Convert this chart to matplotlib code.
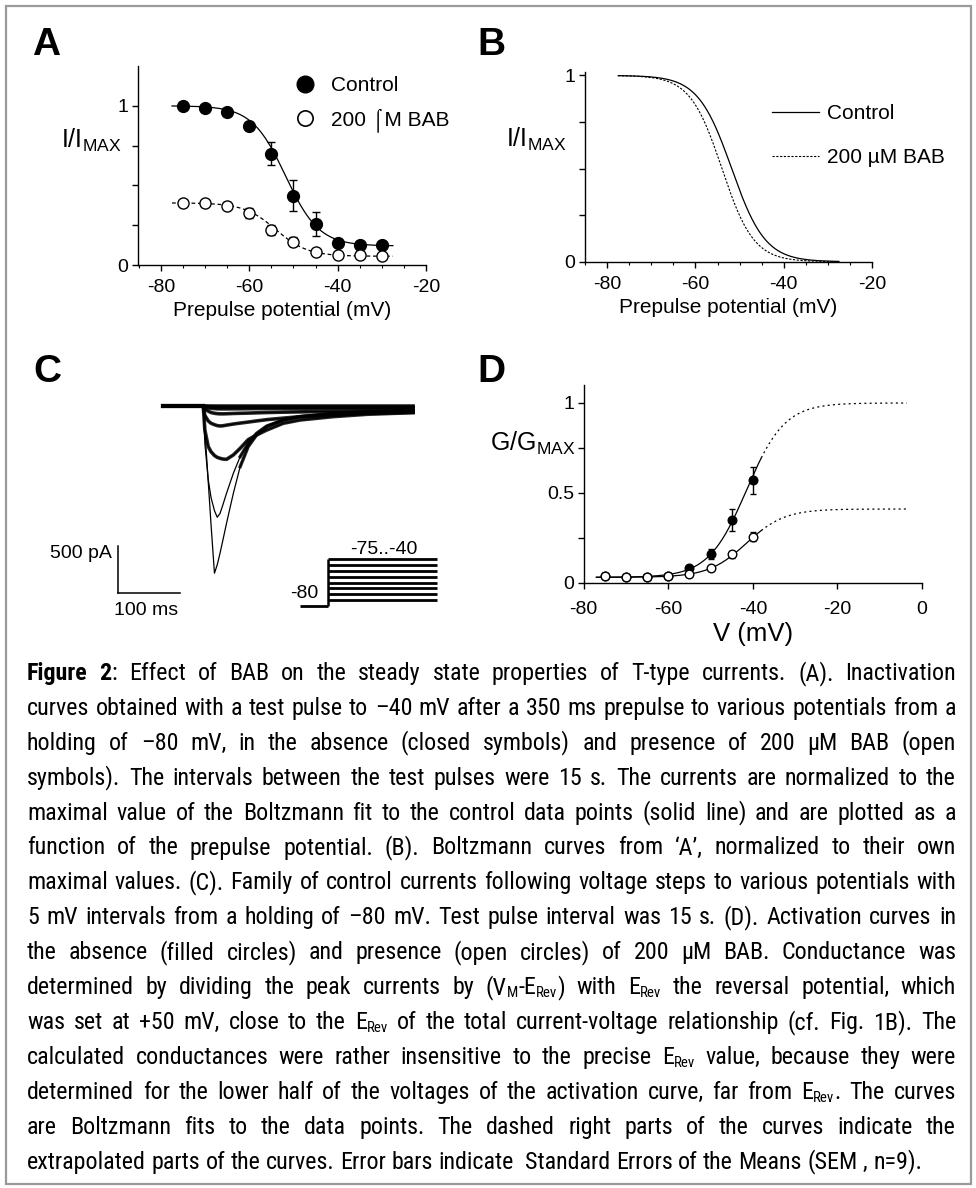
import re
import os
import numpy as np
import matplotlib
matplotlib.use('Agg')
import matplotlib.pyplot as plt
from matplotlib import font_manager
from matplotlib.font_manager import FontProperties
from matplotlib.patches import Rectangle
from matplotlib.lines import Line2D

# ---------------------------------------------------------------- data
# Panel A: steady-state inactivation (I/Imax vs prepulse potential)
prepulse_mv = [-75, -70, -65, -60, -55, -50, -45, -40, -35, -30]
a_control = [1.00, 0.985, 0.962, 0.874, 0.700, 0.436, 0.258, 0.136, 0.126, 0.126]
a_control_err = [0.010, 0.010, 0.015, 0.020, 0.071, 0.096, 0.073, 0.015, 0.010, 0.010]
a_bab = [0.388, 0.388, 0.373, 0.325, 0.220, 0.147, 0.084, 0.063, 0.063, 0.057]
a_bab_err = [0.015, 0.010, 0.020, 0.030, 0.030, 0.030, 0.015, 0.010, 0.010, 0.010]
# Boltzmann fit parameters [top, bottom, V1/2 (mV), slope (mV)]
inact_fit_control = [1.0, 0.12, -51.8, 3.8]
inact_fit_bab = [0.39, 0.055, -54.0, 3.6]
inact_fit_range = [-77.5, -27.5]

# Panel D: activation (G/Gmax vs V)
act_mv = [-75, -70, -65, -60, -55, -50, -45, -40]
d_control = [0.035, 0.032, 0.033, 0.040, 0.080, 0.158, 0.348, 0.570]
d_control_err = [0.005, 0.005, 0.005, 0.006, 0.010, 0.027, 0.060, 0.075]
d_bab = [0.037, 0.032, 0.034, 0.040, 0.048, 0.083, 0.158, 0.255]
d_bab_err = [0.005, 0.005, 0.005, 0.005, 0.006, 0.008, 0.020, 0.025]
act_fit_control = [0.03, 1.0, -41.5, 4.5]
act_fit_bab = [0.03, 0.41, -41.5, 4.5]
act_fit_measured = [-77.0, -38.0]
act_fit_extrapolated = [-38.0, -3.6]

# Panel C: family of control currents (time in ms, current in pA)
trace_t_ms = [0, 64.5, 67, 72.5, 77, 82.5, 87, 91.5, 96, 102, 113, 124, 137,
              150.5, 167, 193.5, 220.5, 274, 328, 403]
trace_1 = [0, 0, -254, -813, -1270, -1790, -1700, -1576, -1440, -1255, -934, -649,
           -435, -310, -221, -150, -114, -78, -61, -50]
trace_2 = [0, 0, -400, -790, -980, -1120, -1191, -1150, -1060, -934, -720, -542,
           -400, -292, -214, -150, -114, -85, -68, -57]
trace_3 = [0, 0, -257, -435, -490, -530, -550, -560, -568, -571, -524, -453,
           -360, -310, -257, -185, -150, -114, -89, -71]
trace_4 = [0, 0, -100, -160, -185, -200, -210, -214, -212, -205, -193, -183,
           -172, -160, -146, -130, -114, -96, -78, -68]
trace_5 = [0, 0, -30, -55, -70, -78, -82, -84, -84, -83, -80, -78, -76, -73,
           -70, -66, -63, -58, -54, -50]
trace_6 = [0, 0, -10, -20, -25, -28, -30, -31, -31, -31, -30, -30, -29, -28,
           -28, -27, -27, -26, -25, -25]
trace_7 = [0, 0, -3, -6, -8, -9, -10, -10, -10, -10, -10, -10, -10, -10, -10,
           -10, -10, -10, -10, -10]
trace_8 = [0] * 20
traces = [trace_1, trace_2, trace_3, trace_4, trace_5, trace_6, trace_7, trace_8]
scale_bar_ms = 100
scale_bar_pa = 500

# voltage protocol (mV)
protocol_holding_mv = -80
protocol_steps_mv = [-75, -70, -65, -60, -55, -50, -45, -40]
protocol_t_ms = [0, 45, 221]

caption_lines = [
    "**Figure** **2**: Effect of BAB on the steady state properties of T-type currents. (A). Inactivation",
    "curves obtained with a test pulse to \u201340 mV after a 350 ms prepulse to various potentials from a",
    "holding of \u201380 mV, in the absence (closed symbols) and presence of 200 \u00b5M BAB (open",
    "symbols). The intervals between the test pulses were 15 s. The currents are normalized to the",
    "maximal value of the Boltzmann fit to the control data points (solid line) and are plotted as a",
    "function of the prepulse potential. (B). Boltzmann curves from \u2018A\u2019, normalized to their own",
    "maximal values. (C). Family of control currents following voltage steps to various potentials with",
    "5 mV intervals from a holding of \u201380 mV. Test pulse interval was 15 s. (D). Activation curves in",
    "the absence (filled circles) and presence (open circles) of 200 \u00b5M BAB. Conductance was",
    "determined by dividing the peak currents by (V_{M}-E_{Rev}) with E_{Rev} the reversal potential, which",
    "was set at +50 mV, close to the E_{Rev} of the total current-voltage relationship (cf. Fig. 1B). The",
    "calculated conductances were rather insensitive to the precise E_{Rev} value, because they were",
    "determined for the lower half of the voltages of the activation curve, far from E_{Rev}. The curves",
    "are Boltzmann fits to the data points. The dashed right parts of the curves indicate the",
    "extrapolated parts of the curves. Error bars indicate  Standard Errors of the Means (SEM , n=9).",
]

# ---------------------------------------------------------------- fonts
W, H, DPI = 976, 1188, 100


def find_path(fp):
    try:
        return font_manager.findfont(fp, fallback_to_default=False)
    except Exception:
        return None


def has_font(name):
    return find_path(FontProperties(family=name)) is not None


SANS = 'Liberation Sans' if has_font('Liberation Sans') else 'DejaVu Sans'

# look for a narrow sans for the justified caption
CAPTION_FONT = dict(family=SANS)
for fam, stretch in [('Liberation Sans Narrow', 'normal'), ('Arial Narrow', 'normal'),
                     ('Roboto Condensed', 'normal'), ('Noto Sans', 'condensed'),
                     ('Noto Sans Condensed', 'normal'), ('Open Sans', 'condensed'),
                     ('Open Sans Condensed', 'normal'), ('DejaVu Sans', 'condensed')]:
    p = find_path(FontProperties(family=fam, stretch=stretch))
    if p:
        base = os.path.basename(p).lower()
        if 'narrow' in base or 'condens' in base:
            CAPTION_FONT = dict(family=fam, stretch=stretch)
            break

plt.rcParams['font.family'] = [SANS, 'DejaVu Sans']
plt.rcParams['axes.unicode_minus'] = False
plt.rcParams['mathtext.fontset'] = 'custom'
plt.rcParams['mathtext.rm'] = SANS
plt.rcParams['mathtext.it'] = SANS
plt.rcParams['mathtext.bf'] = SANS + ':bold'

fig = plt.figure(figsize=(W / DPI, H / DPI), dpi=DPI)
fig.patch.set_facecolor('white')


def px_axes(x0, y0, x1, y1):
    return fig.add_axes([x0 / W, 1 - y1 / H, (x1 - x0) / W, (y1 - y0) / H])


def ptext(x, y, s, **kw):
    return fig.text(x / W, 1 - y / H, s, **kw)


def style_axes(ax, xpad=6):
    for s in ['top', 'right']:
        ax.spines[s].set_visible(False)
    for s in ['left', 'bottom']:
        ax.spines[s].set_linewidth(1.0)
    ax.tick_params(which='major', direction='out', length=4, width=1.0, labelsize=14, pad=3)
    ax.tick_params(axis='x', which='major', pad=xpad)
    ax.tick_params(which='minor', direction='out', length=2.5, width=0.8)
    ax.patch.set_alpha(0)


def inact(v, top, bottom, vh, k):
    return bottom + (top - bottom) / (1 + np.exp((v - vh) / k))


def act(v, bottom, top, vh, k):
    return bottom + (top - bottom) / (1 + np.exp((vh - v) / k))


DASH = (0, (3.0, 2.2))
FINE_DASH = (0, (2.0, 1.4))
DOT = (0, (1.6, 2.6))

# ---------------------------------------------------------------- panel A
axA = px_axes(138, 66, 426, 265)
style_axes(axA, xpad=6)
axA.set_xlim(-85.2, -20)
axA.set_ylim(0, 1.25)
axA.set_xticks([-80, -60, -40, -20])
axA.set_xticks(np.arange(-85, -19, 5), minor=True)
axA.set_yticks([0, 0.25, 0.5, 0.75, 1.0])
axA.set_yticklabels(['0', '', '', '', '1'])
vA = np.linspace(inact_fit_range[0], inact_fit_range[1], 300)
axA.plot(vA, inact(vA, *inact_fit_control), color='black', lw=0.9)
axA.plot(vA, inact(vA, *inact_fit_bab), color='black', lw=0.9, ls=DASH)
axA.errorbar(prepulse_mv, a_control, yerr=a_control_err, fmt='none', ecolor='black',
             elinewidth=1.0, capsize=3, capthick=1.0)
axA.errorbar(prepulse_mv, a_bab, yerr=a_bab_err, fmt='none', ecolor='black',
             elinewidth=1.0, capsize=3, capthick=1.0)
axA.plot(prepulse_mv, a_control, 'o', ms=8.5, mfc='black', mec='black', mew=1.0, zorder=5)
axA.plot(prepulse_mv, a_bab, 'o', ms=8.0, mfc='white', mec='black', mew=1.0, zorder=5)
hA = [Line2D([], [], marker='o', ls='none', ms=12, mfc='black', mec='black'),
      Line2D([], [], marker='o', ls='none', ms=11, mfc='white', mec='black', mew=1.2)]
axA.legend(hA, ['Control', '200 \u2320M BAB'], loc='upper left', frameon=False,
           bbox_to_anchor=(295 / W, 1 - 76 / H), bbox_transform=fig.transFigure,
           fontsize=15, handlelength=1.0, handletextpad=0.72, labelspacing=0.62,
           borderpad=0, borderaxespad=0)
axA.set_xlabel('Prepulse potential (mV)', fontsize=15, labelpad=4)
ptext(61, 148, 'I/I$_{\\rm MAX}$', fontsize=18, va='baseline', ha='left')

# ---------------------------------------------------------------- panel B
axB = px_axes(584.7, 71.7, 872, 261.7)
style_axes(axB, xpad=6)
axB.set_xlim(-85.1, -20)
axB.set_ylim(0, 1.02)
axB.set_xticks([-80, -60, -40, -20])
axB.set_xticks(np.arange(-85, -19, 5), minor=True)
axB.set_yticks([0, 0.25, 0.5, 0.75, 1.0])
axB.set_yticklabels(['0', '', '', '', '1'])
vB = np.linspace(inact_fit_range[0], inact_fit_range[1], 300)
axB.plot(vB, inact(vB, 1.0, 0.0, *inact_fit_control[2:]), color='black', lw=0.9, label='Control')
axB.plot(vB, inact(vB, 1.0, 0.0, *inact_fit_bab[2:]), color='black', lw=0.8, ls=FINE_DASH,
         label='200 \u00b5M BAB')
axB.legend(loc='upper left', frameon=False,
           bbox_to_anchor=(772 / W, 1 - 104 / H), bbox_transform=fig.transFigure,
           fontsize=15, handlelength=2.26, handletextpad=0.38, labelspacing=1.22,
           borderpad=0, borderaxespad=0)
axB.set_xlabel('Prepulse potential (mV)', fontsize=15, labelpad=4)
ptext(506, 147, 'I/I$_{\\rm MAX}$', fontsize=18, va='baseline', ha='left')

# ---------------------------------------------------------------- panel C
PX_PER_MS = 0.62
PX_PER_PA = 46.7 / 500.0
cx0, cy0, cx1, cy1 = 100, 390, 450, 620
trace_x0, base_y = 163.3, 406
axC = px_axes(cx0, cy0, cx1, cy1)
axC.set_xlim(-(trace_x0 - cx0) / PX_PER_MS, (cx1 - trace_x0) / PX_PER_MS)
axC.set_ylim(-(cy1 - base_y) / PX_PER_PA, (base_y - cy0) / PX_PER_PA)
axC.axis('off')
t_arr = np.array(trace_t_ms)
for i, tr in enumerate(traces):
    tr = np.array(tr)
    axC.plot(t_arr, tr, color='black', lw=0.9)
    if i >= 2:
        axC.plot(t_arr, tr, color='black', lw=2.6, alpha=0.85)
    else:
        axC.plot(t_arr[t_arr <= 64.5], tr[t_arr <= 64.5], color='black', lw=3.0, alpha=0.85)
        axC.plot(t_arr[t_arr >= 124], tr[t_arr >= 124], color='black', lw=2.4, alpha=0.85)
sb_t0 = -73.0
sb_i0 = -2000.0
axC.plot([sb_t0, sb_t0], [sb_i0, sb_i0 + scale_bar_pa], color='black', lw=1.1)
axC.plot([sb_t0, sb_t0 + scale_bar_ms], [sb_i0, sb_i0], color='black', lw=1.1)
ptext(112, 553, '%d pA' % scale_bar_pa, fontsize=14, ha='right', va='center')
ptext(146, 610, '%d ms' % scale_bar_ms, fontsize=14, ha='center', va='center')

# voltage protocol
PX_PER_MV = 1.163
px0, py0, px1, py1 = 280, 540, 450, 615
prot_x0, hold_y = 300, 605.8
axP = px_axes(px0, py0, px1, py1)
axP.set_xlim(-(prot_x0 - px0) / PX_PER_MS, (px1 - prot_x0) / PX_PER_MS)
axP.set_ylim(protocol_holding_mv - (py1 - hold_y) / PX_PER_MV,
             protocol_holding_mv + (hold_y - py0) / PX_PER_MV)
axP.axis('off')
axP.plot(protocol_t_ms[:2], [protocol_holding_mv] * 2, color='black', lw=2.0, solid_capstyle='butt')
axP.plot([protocol_t_ms[1]] * 2, [protocol_holding_mv, max(protocol_steps_mv)], color='black',
         lw=1.8, solid_capstyle='butt')
for lv in protocol_steps_mv:
    axP.plot(protocol_t_ms[1:], [lv, lv], color='black', lw=2.0, solid_capstyle='butt')
ptext(318, 593, '%d' % protocol_holding_mv, fontsize=14, ha='right', va='center')
ptext(384, 549, '%d..%d' % (min(protocol_steps_mv), max(protocol_steps_mv)), fontsize=14,
      ha='center', va='center')

# ---------------------------------------------------------------- panel D
axD = px_axes(583.7, 385, 922, 582.7)
style_axes(axD, xpad=9)
axD.set_xlim(-80, 0)
axD.set_ylim(0, 1.1)
axD.set_xticks([-80, -60, -40, -20, 0])
axD.set_yticks([0, 0.25, 0.5, 0.75, 1.0])
axD.set_yticklabels(['0', '', '0.5', '', '1'])
vm = np.linspace(act_fit_measured[0], act_fit_measured[1], 200)
ve = np.linspace(act_fit_extrapolated[0], act_fit_extrapolated[1], 200)
for p in (act_fit_control, act_fit_bab):
    axD.plot(vm, act(vm, *p), color='black', lw=0.9)
    axD.plot(ve, act(ve, *p), color='black', lw=0.9, ls=DOT)
axD.errorbar(act_mv, d_control, yerr=d_control_err, fmt='none', ecolor='black',
             elinewidth=1.0, capsize=2.5, capthick=1.0)
axD.errorbar(act_mv, d_bab, yerr=d_bab_err, fmt='none', ecolor='black',
             elinewidth=1.0, capsize=2.5, capthick=1.0)
axD.plot(act_mv, d_control, 'o', ms=6.2, mfc='black', mec='black', zorder=5)
axD.plot(act_mv, d_bab, 'o', ms=6.2, mfc='white', mec='black', mew=1.0, zorder=6)
axD.set_xlabel('V (mV)', fontsize=18.5, labelpad=3)
ptext(490, 451, 'G/G$_{\\rm MAX}$', fontsize=18, va='baseline', ha='left')

# ---------------------------------------------------------------- panel letters
for x, y, s in [(32, 55, 'A'), (477, 55, 'B'), (33, 382, 'C'), (477, 382, 'D')]:
    ptext(x, y, s, fontsize=28, fontweight='bold', va='baseline', ha='left')

# ---------------------------------------------------------------- caption
renderer = fig.canvas.get_renderer()
SEG_RE = re.compile(r'\*\*(.+?)\*\*|_\{(.+?)\}|([^*_]+)')
CAP_X0, CAP_X1 = 27, 956
CAP_BASE0, CAP_STEP = 680, 34.9


def parse_word(w):
    out = []
    for m in SEG_RE.finditer(w):
        if m.group(1):
            out.append((m.group(1), 'b'))
        elif m.group(2):
            out.append((m.group(2), 's'))
        else:
            out.append((m.group(3), 'n'))
    return out


def fprops(kind, fs):
    if kind == 'b':
        return FontProperties(size=fs, weight='bold', **CAPTION_FONT)
    if kind == 's':
        return FontProperties(size=fs * 0.62, **CAPTION_FONT)
    return FontProperties(size=fs, **CAPTION_FONT)


def seg_width(s, kind, fs):
    w, _, _ = renderer.get_text_width_height_descent(s, fprops(kind, fs), ismath=False)
    return w


def layout(fs):
    out = []
    for ln in caption_lines:
        words = [parse_word(w) for w in ln.split(' ')]
        widths = [sum(seg_width(s, k, fs) for s, k in wd) for wd in words]
        out.append((words, widths))
    return out


cap_fs = 17.3
space_w = seg_width('a a', 'n', cap_fs) - seg_width('aa', 'n', cap_fs)
lines = layout(cap_fs)
max_nat = max(sum(ws) + space_w * (len(ws) - 1) for _, ws in lines)
if max_nat > (CAP_X1 - CAP_X0):
    cap_fs = cap_fs * (CAP_X1 - CAP_X0) / max_nat * 0.995
    space_w = seg_width('a a', 'n', cap_fs) - seg_width('aa', 'n', cap_fs)
    lines = layout(cap_fs)

for i, (words, widths) in enumerate(lines):
    y = CAP_BASE0 + CAP_STEP * i
    n = len(words)
    if i < len(lines) - 1 and n > 1:
        gap = (CAP_X1 - CAP_X0 - sum(widths)) / (n - 1)
    else:
        gap = space_w
    x = CAP_X0
    for wd, ww in zip(words, widths):
        xx = x
        for s, k in wd:
            dy = 3 if k == 's' else 0
            ptext(xx, y + dy, s, fontproperties=fprops(k, cap_fs), va='baseline', ha='left')
            xx += seg_width(s, k, cap_fs)
        x += ww + gap

# ---------------------------------------------------------------- frame
fig.patches.append(Rectangle((5.5 / W, 1 - 1184 / H), (971 - 5.5) / W, (1184 - 5.5) / H,
                             transform=fig.transFigure, fill=False, edgecolor='#9a9a9a',
                             lw=1.6, zorder=0))

fig.savefig('out.png', dpi=DPI, facecolor='white')
